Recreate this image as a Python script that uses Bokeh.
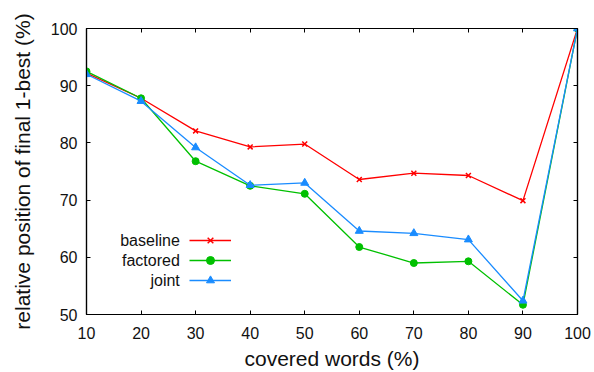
from bokeh.plotting import figure
from bokeh.models import LinearAxis, Range1d, Legend, LegendItem, Label, FixedTicker
from bokeh.embed import file_html
from bokeh.resources import INLINE

covered = [10, 20, 30, 40, 50, 60, 70, 80, 90, 100]
baseline = [92.2, 87.8, 82.1, 79.3, 79.8, 73.6, 74.7, 74.3, 69.9, 100]
factored = [92.5, 87.8, 76.8, 72.5, 71.1, 61.8, 59.0, 59.3, 51.7, 100]
joint = [92.0, 87.3, 79.2, 72.6, 73.0, 64.6, 64.2, 63.1, 52.4, 100]
x_ticks = [10, 20, 30, 40, 50, 60, 70, 80, 90, 100]
y_ticks = [50, 60, 70, 80, 90, 100]

RED = "#ff0000"
GREEN = "#00c000"
BLUE = "#1a8cff"
FONT = "Liberation Sans"

p = figure(width=594, height=372, output_backend="svg", toolbar_location=None,
           x_range=Range1d(10, 100), y_range=Range1d(50, 100),
           min_border_left=86, min_border_right=17, min_border_top=28, min_border_bottom=58)
p.xgrid.visible = False
p.ygrid.visible = False
p.outline_line_color = "black"
p.outline_line_width = 1.2
p.background_fill_color = "white"
p.border_fill_color = "white"

def style_axis(ax, ticks, labels=True):
    ax.ticker = FixedTicker(ticks=ticks)
    ax.major_tick_in = 4
    ax.major_tick_out = 0
    ax.minor_tick_in = 0
    ax.minor_tick_out = 0
    ax.axis_line_color = "black"
    ax.axis_line_width = 1.2
    ax.major_tick_line_color = "black"
    ax.major_tick_line_width = 1
    ax.major_label_text_font = FONT
    ax.major_label_text_font_size = "16px"
    ax.major_label_text_color = "#111111"
    ax.axis_label_text_font = FONT
    ax.axis_label_text_font_style = "normal"
    ax.axis_label_text_font_size = "21px"
    ax.axis_label_text_color = "#111111"
    if not labels:
        ax.major_label_text_font_size = "2px"
        ax.major_label_text_color = None
        ax.major_label_standoff = 0

style_axis(p.xaxis[0], x_ticks)
style_axis(p.yaxis[0], y_ticks)
p.xaxis[0].axis_label = "covered words (%)"
p.yaxis[0].axis_label = "relative position of final 1-best (%)"
p.xaxis[0].major_label_standoff = 12
p.xaxis[0].axis_label_standoff = 5
p.yaxis[0].major_label_standoff = 9
p.yaxis[0].axis_label_standoff = 14

top_ax = LinearAxis()
style_axis(top_ax, x_ticks, labels=False)
p.add_layout(top_ax, "above")
right_ax = LinearAxis()
style_axis(right_ax, y_ticks, labels=False)
p.add_layout(right_ax, "right")

lw = 1.3
rb = p.line(covered, baseline, line_color=RED, line_width=lw)
mb = p.scatter(covered, baseline, marker="x", size=7, line_color=RED, line_width=1.5)
rf = p.line(covered, factored, line_color=GREEN, line_width=lw)
mf = p.scatter(covered, factored, marker="circle", size=7, fill_color=GREEN, line_color=GREEN)
rj = p.line(covered, joint, line_color=BLUE, line_width=lw)
mj = p.scatter(covered, joint, marker="triangle", size=8, fill_color=BLUE, line_color=BLUE)

legend = Legend(items=[
    LegendItem(label=" ", renderers=[rb, mb]),
    LegendItem(label=" ", renderers=[rf, mf]),
    LegendItem(label=" ", renderers=[rj, mj]),
], location=(103, 24), padding=0, margin=0, spacing=0, glyph_width=42, glyph_height=20,
    label_height=20, label_standoff=0, label_width=1, border_line_color=None,
    background_fill_alpha=0, label_text_font_size="1px")
p.add_layout(legend, "center")

names = ["baseline", "factored", "joint"]
ys = [62.95, 59.45, 55.95]
for n, yv in zip(names, ys):
    p.add_layout(Label(x=27.1, y=yv, text=n, text_align="right", text_baseline="middle",
                       text_font=FONT, text_font_size="16px", text_color="#111111"))

open("out.html", "w").write(file_html(p, INLINE))
